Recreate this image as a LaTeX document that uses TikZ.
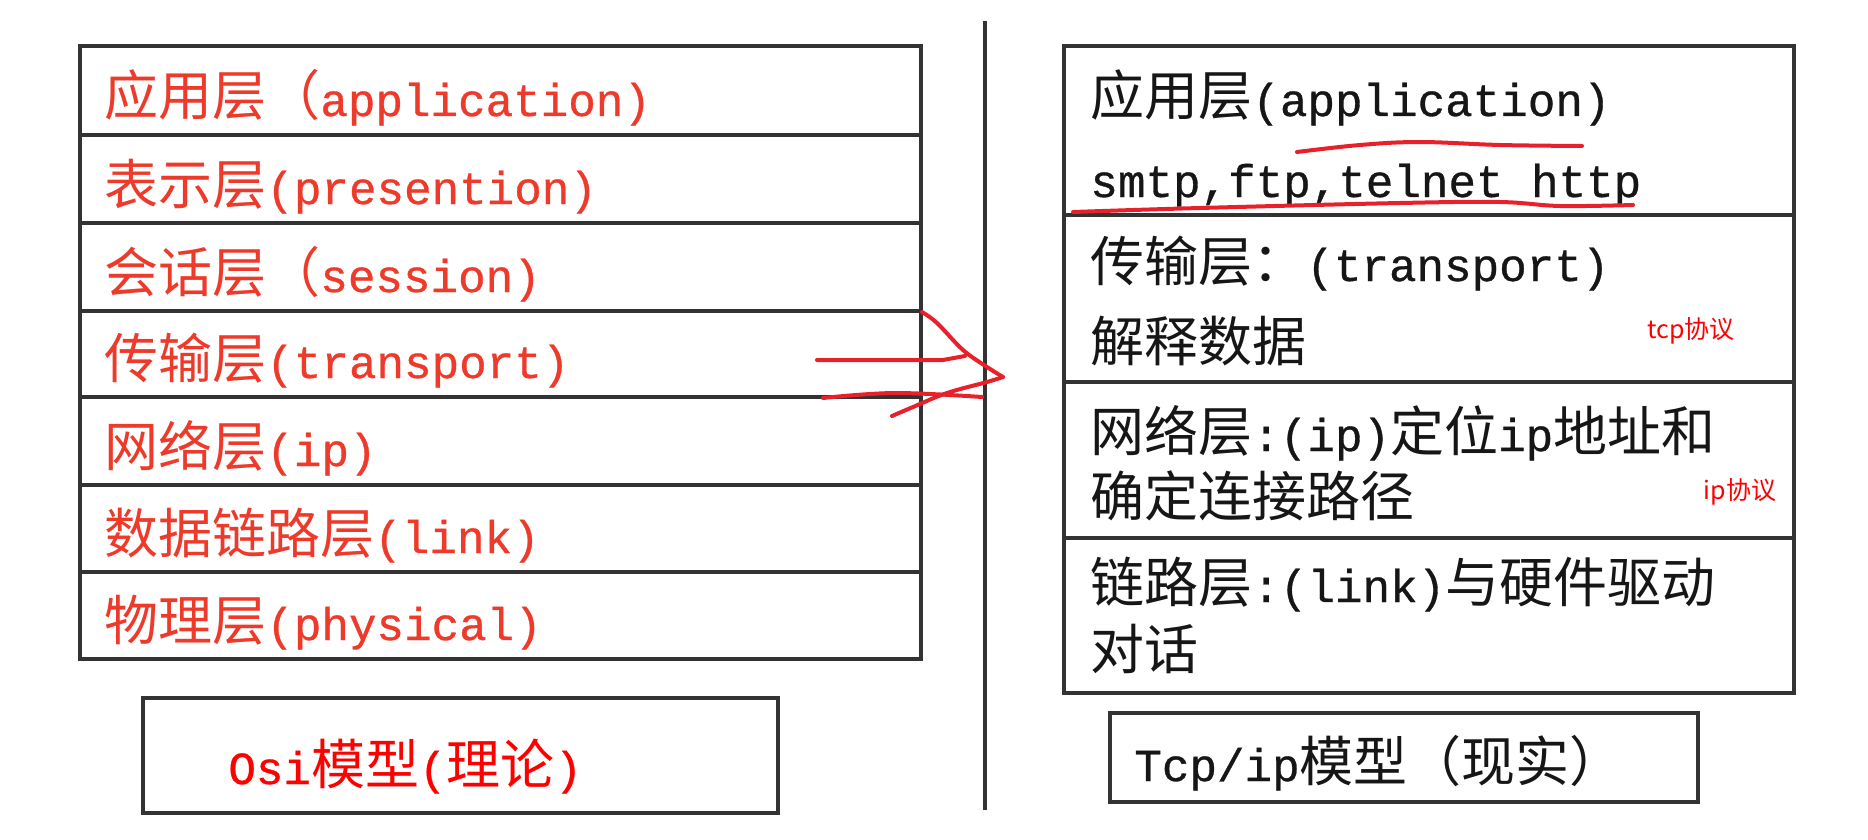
\documentclass[tikz,border=0pt]{standalone}
\usepackage{fontspec}
\setmainfont{Liberation Mono}[Scale=0.85,FakeBold=0.7]
\newfontfamily\zh{Noto Sans CJK SC}
\usetikzlibrary{positioning}
\definecolor{osired}{HTML}{EE3A2A}
\definecolor{ink}{HTML}{161616}
\definecolor{frame}{HTML}{333333}
\definecolor{penred}{HTML}{E8202A}
\tikzset{
  rule/.style={draw=frame,line width=1.6pt},
  ositxt/.style={anchor=base west,inner sep=0pt,text=osired,font=\fontsize{27}{32}\selectfont},
  tcptxt/.style={anchor=base west,inner sep=0pt,text=ink,font=\fontsize{27}{32}\selectfont},
  note/.style={inner sep=0pt,text=red,font=\zh\fontsize{12.5}{15}\selectfont},
  scrawl/.style={penred,line width=2pt,line cap=round,line join=round},
}

\begin{document}
\begin{tikzpicture}[x=0.5pt,y=-0.5pt]
\useasboundingbox (0,0) rectangle (1868,840);
% OSI stack
\draw[rule] (80,46) rectangle (921,659);
\foreach \y in {135,223,311,397,485,572}
  \draw[rule] (80,\y) -- (921,\y);
\foreach \n/\y/\t in {
  app/116/{{\zh 应用层（}application)},
  pre/204/{{\zh 表示层}(presention)},
  ses/292/{{\zh 会话层（}session)},
  tra/378/{{\zh 传输层}(transport)},
  net/466/{{\zh 网络层}(ip)},
  lnk/553/{{\zh 数据链路层}(link)},
  phy/640/{{\zh 物理层}(physical)}}
  \node[ositxt] (\n) at (104,\y) {\t};
\draw[rule] (143,698) rectangle (778,813);
\node[ositxt,text=red] (osi) at (228,784) {Osi{\zh 模型}({\zh 理论})};
% divider
\draw[rule] (985,21) -- (985,810);
% TCP/IP stack
\draw[rule] (1064,46) rectangle (1794,693);
\foreach \y in {215,382,538}
  \draw[rule] (1064,\y) -- (1794,\y);
\node[tcptxt] (tapp)  at (1090,116) {{\zh 应用层}(application)};
\node[tcptxt] (proto) at (1090,197) {smtp,ftp,telnet http};
\node[tcptxt] (ttra)  at (1090,281) {{\zh 传输层：}(transport)};
\node[tcptxt] (ttra2) at (1090,361) {{\zh 解释数据}};
\node[tcptxt] (tnet)  at (1090,451) {{\zh 网络层}:(ip){\zh 定位}ip{\zh 地址和}};
\node[tcptxt] (tnet2) at (1090,516) {{\zh 确定连接路径}};
\node[tcptxt] (tlnk)  at (1090,602) {{\zh 链路层}:(link){\zh 与硬件驱动}};
\node[tcptxt] (tlnk2) at (1090,669) {{\zh 对话}};
\draw[rule] (1110,713) rectangle (1698,802);
\node[tcptxt] (tcp) at (1134,781) {Tcp/ip{\zh 模型（现实）}};
% notes
\node[note] (tcpnote) at (1691,331) {tcp协议};
\node[note] (ipnote)  at (1740,492) {ip协议};
% pen marks
\draw[scrawl] plot[smooth,tension=0.6] coordinates {(1297,152) (1360,145) (1420,142) (1500,145) (1582,146)};
\draw[scrawl] plot[smooth,tension=0.6] coordinates {(1073,212) (1200,208) (1400,203) (1500,202) (1560,206) (1633,205)};
\draw[scrawl] (817,360) -- (943,360) -- (965,356);
\draw[scrawl] plot[smooth,tension=0.6] coordinates {(823,398) (895,393) (982,397)};
\draw[scrawl] plot[smooth,tension=0.6] coordinates {(922,312) (937,323) (963,350) (987,367) (1003,377)};
\draw[scrawl] plot[smooth,tension=0.6] coordinates {(1003,377) (987,382) (947,393) (913,407) (892,416)};
\end{tikzpicture}
\end{document}
